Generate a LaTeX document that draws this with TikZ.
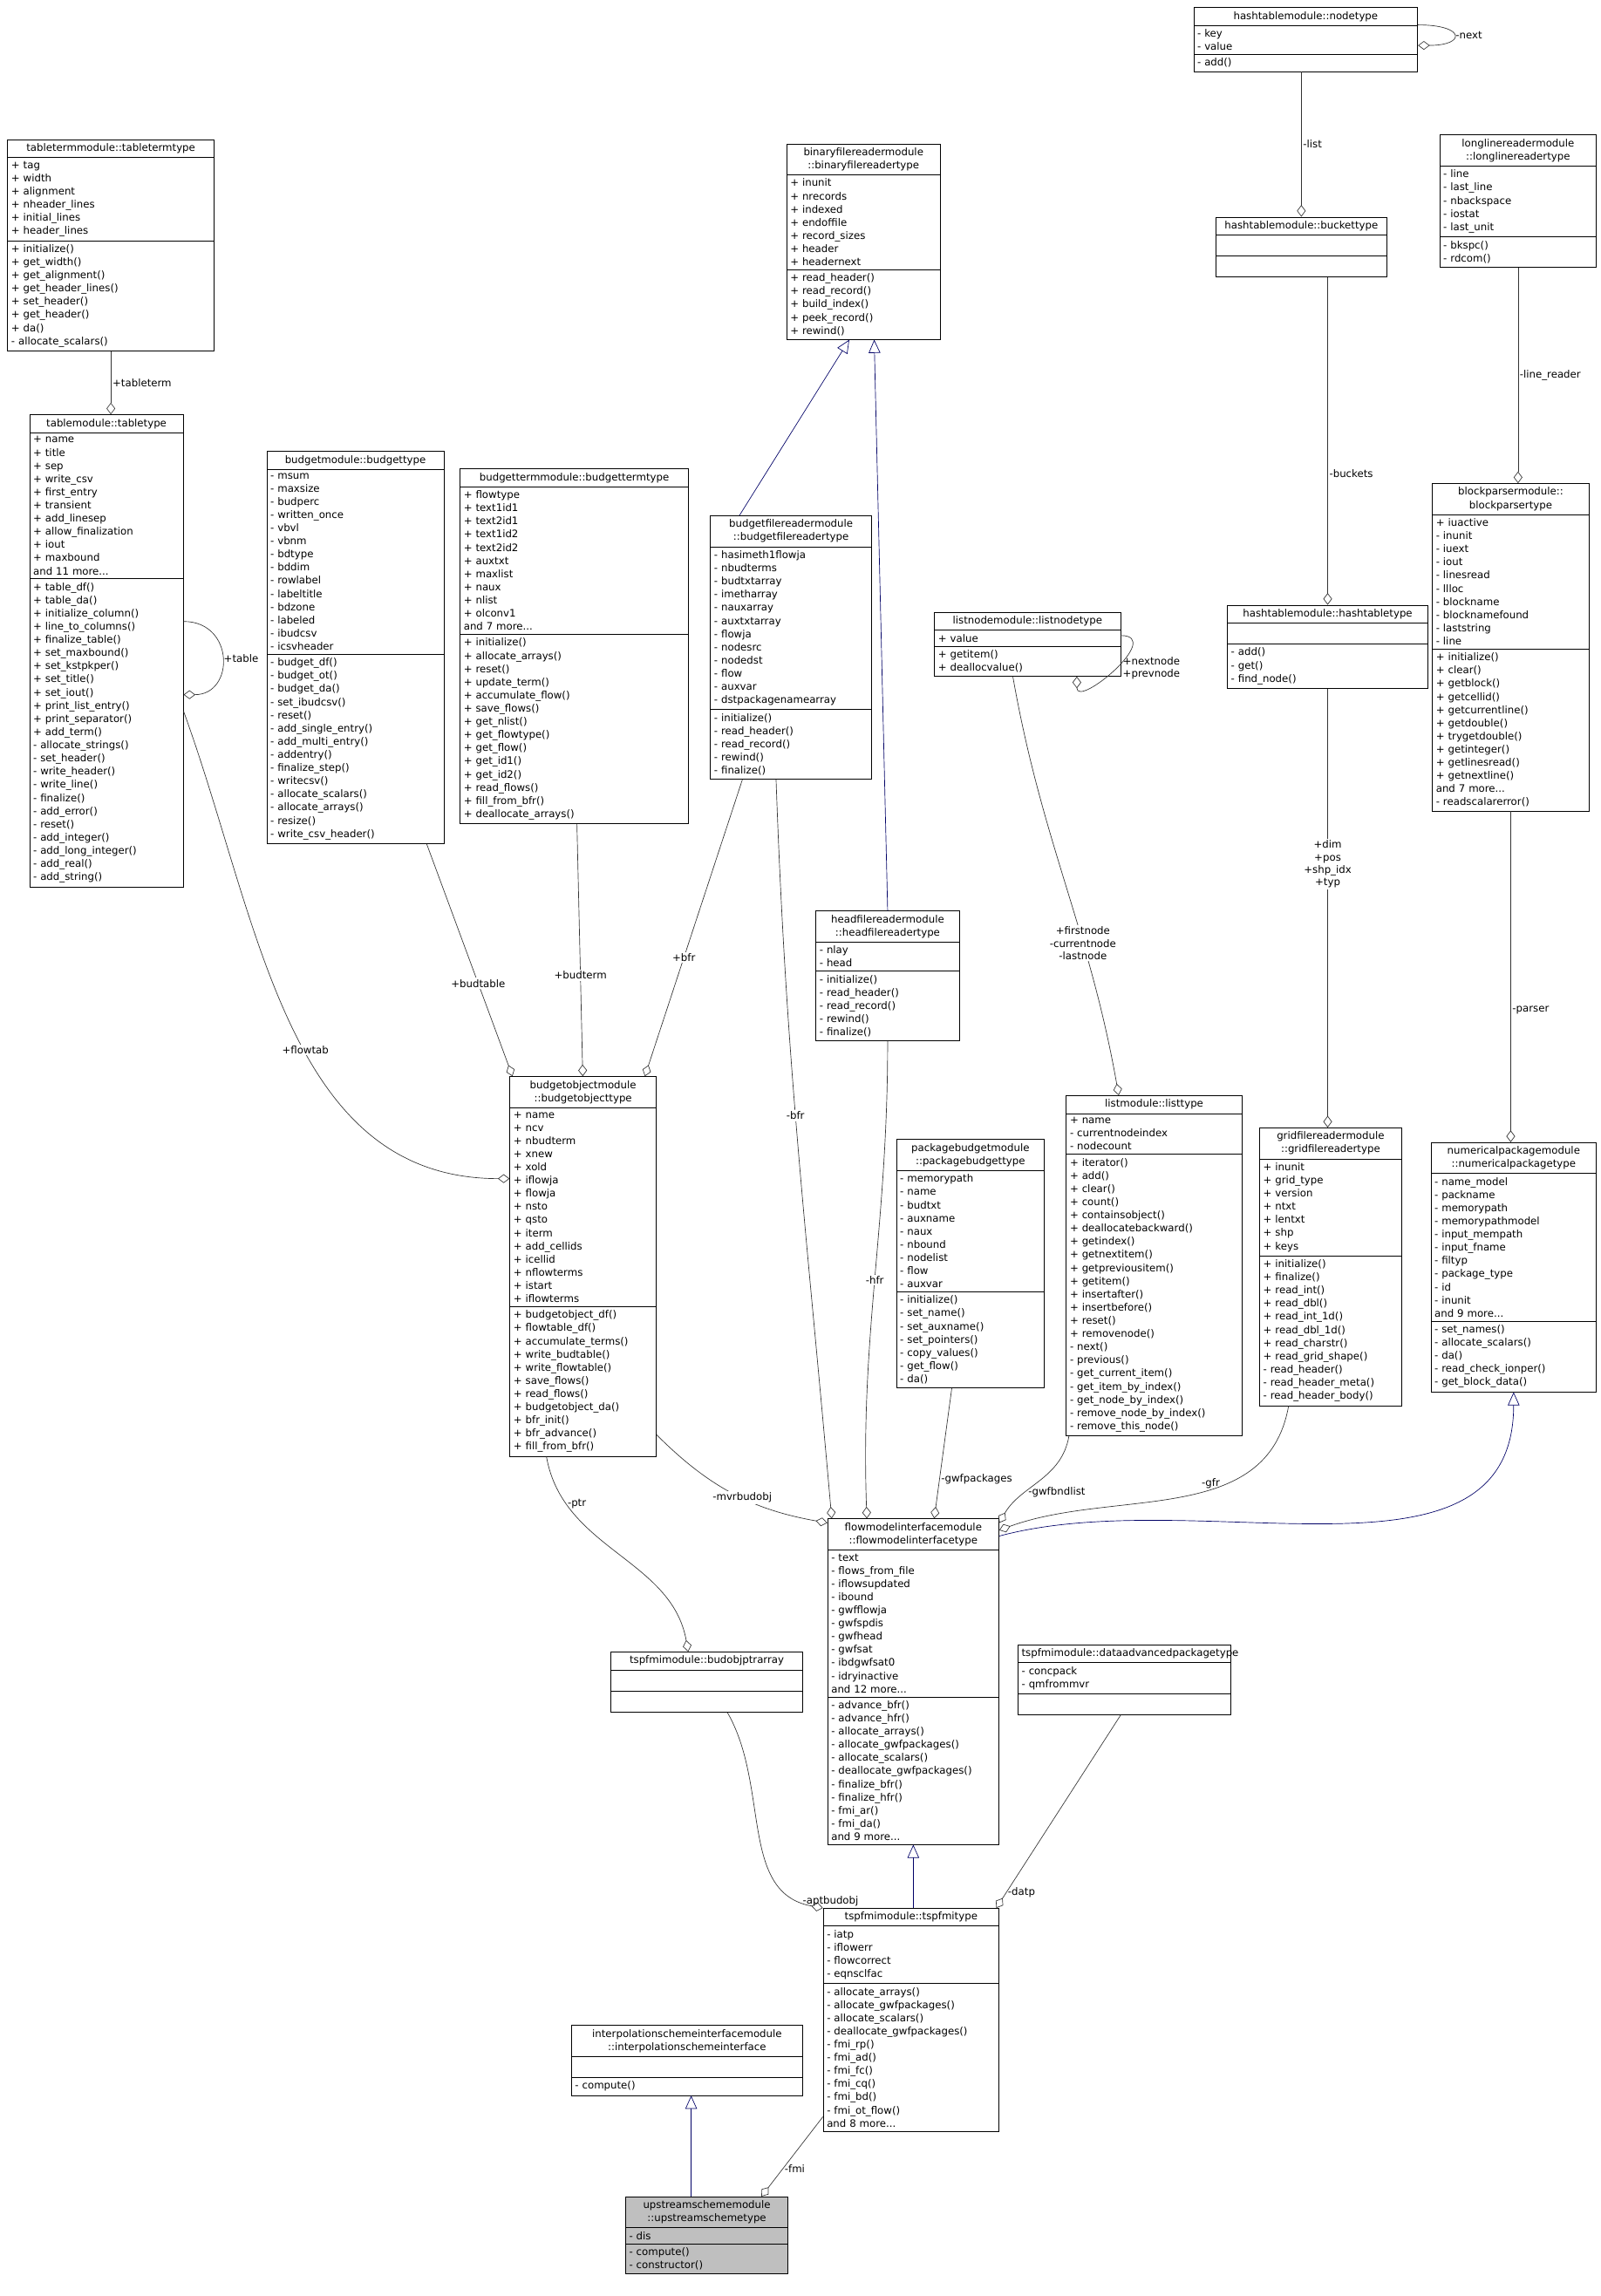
\documentclass[tikz,border=0pt]{standalone}
\usepackage{fontspec}
\setmainfont{DejaVu Sans}
\usetikzlibrary{shapes.multipart,arrows.meta,calc}
\begin{document}
\begin{tikzpicture}[x=1pt, y=-1pt,
    cls/.style = {draw, rectangle split, rectangle split parts=3, anchor=north west,
      inner sep=2.5pt, font=\fontsize{7}{9}\selectfont, fill=white},
    agg/.style = {draw=black!80, {Diamond[open,length=8pt,width=6pt]}-},
    inh/.style = {draw=blue!40!black, {Triangle[open,length=9pt,width=8pt]}-},
    lbl/.style = {font=\fontsize{7}{8.5}\selectfont, align=center, inner sep=1pt}]
  \useasboundingbox (0,0) rectangle (1093,1568);

  \node[cls, text width=148] (nt) at (815,5) {\centering hashtablemodule::nodetype\par\nodepart{two}- key\\- value\nodepart{three}- add()};
  \node[cls, text width=136] (ttt) at (5,95) {\centering tabletermmodule::tabletermtype\par\nodepart{two}+ tag\\+ width\\+ alignment\\+ nheader\_lines\\+ initial\_lines\\+ header\_lines\nodepart{three}+ initialize()\\+ get\_width()\\+ get\_alignment()\\+ get\_header\_lines()\\+ set\_header()\\+ get\_header()\\+ da()\\- allocate\_scalars()};
  \node[cls, text width=100] (bin) at (537,98) {\centering binaryfilereadermodule\\::binaryfilereadertype\par\nodepart{two}+ inunit\\+ nrecords\\+ indexed\\+ endoffile\\+ record\_sizes\\+ header\\+ headernext\nodepart{three}+ read\_header()\\+ read\_record()\\+ build\_index()\\+ peek\_record()\\+ rewind()};
  \node[cls, text width=112] (bk) at (830,148) {\centering hashtablemodule::buckettype\par\nodepart{two}\strut\nodepart{three}\strut};
  \node[cls, text width=102] (llr) at (983,92) {\centering longlinereadermodule\\::longlinereadertype\par\nodepart{two}- line\\- last\_line\\- nbackspace\\- iostat\\- last\_unit\nodepart{three}- bkspc()\\- rdcom()};
  \node[cls, text width=100] (tt) at (20,283) {\centering tablemodule::tabletype\par\nodepart{two}+ name\\+ title\\+ sep\\+ write\_csv\\+ first\_entry\\+ transient\\+ add\_linesep\\+ allow\_finalization\\+ iout\\+ maxbound\\and 11 more...\nodepart{three}+ table\_df()\\+ table\_da()\\+ initialize\_column()\\+ line\_to\_columns()\\+ finalize\_table()\\+ set\_maxbound()\\+ set\_kstpkper()\\+ set\_title()\\+ set\_iout()\\+ print\_list\_entry()\\+ print\_separator()\\+ add\_term()\\- allocate\_strings()\\- set\_header()\\- write\_header()\\- write\_line()\\- finalize()\\- add\_error()\\- reset()\\- add\_integer()\\- add\_long\_integer()\\- add\_real()\\- add\_string()};
  \node[cls, text width=116] (bt) at (182,308) {\centering budgetmodule::budgettype\par\nodepart{two}- msum\\- maxsize\\- budperc\\- written\_once\\- vbvl\\- vbnm\\- bdtype\\- bddim\\- rowlabel\\- labeltitle\\- bdzone\\- labeled\\- ibudcsv\\- icsvheader\nodepart{three}- budget\_df()\\- budget\_ot()\\- budget\_da()\\- set\_ibudcsv()\\- reset()\\- add\_single\_entry()\\- add\_multi\_entry()\\- addentry()\\- finalize\_step()\\- writecsv()\\- allocate\_scalars()\\- allocate\_arrays()\\- resize()\\- write\_csv\_header()};
  \node[cls, text width=151] (btt) at (314,320) {\centering budgettermmodule::budgettermtype\par\nodepart{two}+ flowtype\\+ text1id1\\+ text2id1\\+ text1id2\\+ text2id2\\+ auxtxt\\+ maxlist\\+ naux\\+ nlist\\+ olconv1\\and 7 more...\nodepart{three}+ initialize()\\+ allocate\_arrays()\\+ reset()\\+ update\_term()\\+ accumulate\_flow()\\+ save\_flows()\\+ get\_nlist()\\+ get\_flowtype()\\+ get\_flow()\\+ get\_id1()\\+ get\_id2()\\+ read\_flows()\\+ fill\_from\_bfr()\\+ deallocate\_arrays()};
  \node[cls, text width=105] (bfr) at (485,352) {\centering budgetfilereadermodule\\::budgetfilereadertype\par\nodepart{two}- hasimeth1flowja\\- nbudterms\\- budtxtarray\\- imetharray\\- nauxarray\\- auxtxtarray\\- flowja\\- nodesrc\\- nodedst\\- flow\\- auxvar\\- dstpackagenamearray\nodepart{three}- initialize()\\- read\_header()\\- read\_record()\\- rewind()\\- finalize()};
  \node[cls, text width=122] (ln) at (638,418) {\centering listnodemodule::listnodetype\par\nodepart{two}+ value\nodepart{three}+ getitem()\\+ deallocvalue()};
  \node[cls, text width=132] (ht) at (838,413) {\centering hashtablemodule::hashtabletype\par\nodepart{two}\strut\nodepart{three}- add()\\- get()\\- find\_node()};
  \node[cls, text width=102] (bp) at (978,330) {\centering blockparsermodule::\\blockparsertype\par\nodepart{two}+ iuactive\\- inunit\\- iuext\\- iout\\- linesread\\- llloc\\- blockname\\- blocknamefound\\- laststring\\- line\nodepart{three}+ initialize()\\+ clear()\\+ getblock()\\+ getcellid()\\+ getcurrentline()\\+ getdouble()\\+ trygetdouble()\\+ getinteger()\\+ getlinesread()\\+ getnextline()\\and 7 more...\\- readscalarerror()};
  \node[cls, text width=93] (hfr) at (557,622) {\centering headfilereadermodule\\::headfilereadertype\par\nodepart{two}- nlay\\- head\nodepart{three}- initialize()\\- read\_header()\\- read\_record()\\- rewind()\\- finalize()};
  \node[cls, text width=95] (bo) at (348,735) {\centering budgetobjectmodule\\::budgetobjecttype\par\nodepart{two}+ name\\+ ncv\\+ nbudterm\\+ xnew\\+ xold\\+ iflowja\\+ flowja\\+ nsto\\+ qsto\\+ iterm\\+ add\_cellids\\+ icellid\\+ nflowterms\\+ istart\\+ iflowterms\nodepart{three}+ budgetobject\_df()\\+ flowtable\_df()\\+ accumulate\_terms()\\+ write\_budtable()\\+ write\_flowtable()\\+ save\_flows()\\+ read\_flows()\\+ budgetobject\_da()\\+ bfr\_init()\\+ bfr\_advance()\\+ fill\_from\_bfr()};
  \node[cls, text width=115] (lt) at (728,748) {\centering listmodule::listtype\par\nodepart{two}+ name\\- currentnodeindex\\- nodecount\nodepart{three}+ iterator()\\+ add()\\+ clear()\\+ count()\\+ containsobject()\\+ deallocatebackward()\\+ getindex()\\+ getnextitem()\\+ getpreviousitem()\\+ getitem()\\+ insertafter()\\+ insertbefore()\\+ reset()\\+ removenode()\\- next()\\- previous()\\- get\_current\_item()\\- get\_item\_by\_index()\\- get\_node\_by\_index()\\- remove\_node\_by\_index()\\- remove\_this\_node()};
  \node[cls, text width=96] (pb) at (612,778) {\centering packagebudgetmodule\\::packagebudgettype\par\nodepart{two}- memorypath\\- name\\- budtxt\\- auxname\\- naux\\- nbound\\- nodelist\\- flow\\- auxvar\nodepart{three}- initialize()\\- set\_name()\\- set\_auxname()\\- set\_pointers()\\- copy\_values()\\- get\_flow()\\- da()};
  \node[cls, text width=92] (gfr) at (860,770) {\centering gridfilereadermodule\\::gridfilereadertype\par\nodepart{two}+ inunit\\+ grid\_type\\+ version\\+ ntxt\\+ lentxt\\+ shp\\+ keys\nodepart{three}+ initialize()\\+ finalize()\\+ read\_int()\\+ read\_dbl()\\+ read\_int\_1d()\\+ read\_dbl\_1d()\\+ read\_charstr()\\+ read\_grid\_shape()\\- read\_header()\\- read\_header\_meta()\\- read\_header\_body()};
  \node[cls, text width=108] (np) at (977,780) {\centering numericalpackagemodule\\::numericalpackagetype\par\nodepart{two}- name\_model\\- packname\\- memorypath\\- memorypathmodel\\- input\_mempath\\- input\_fname\\- filtyp\\- package\_type\\- id\\- inunit\\and 9 more...\nodepart{three}- set\_names()\\- allocate\_scalars()\\- da()\\- read\_check\_ionper()\\- get\_block\_data()};
  \node[cls, text width=112] (fmi) at (565,1037) {\centering flowmodelinterfacemodule\\::flowmodelinterfacetype\par\nodepart{two}- text\\- flows\_from\_file\\- iflowsupdated\\- ibound\\- gwfflowja\\- gwfspdis\\- gwfhead\\- gwfsat\\- ibdgwfsat0\\- idryinactive\\and 12 more...\nodepart{three}- advance\_bfr()\\- advance\_hfr()\\- allocate\_arrays()\\- allocate\_gwfpackages()\\- allocate\_scalars()\\- deallocate\_gwfpackages()\\- finalize\_bfr()\\- finalize\_hfr()\\- fmi\_ar()\\- fmi\_da()\\and 9 more...};
  \node[cls, text width=126] (bpa) at (417,1128) {\centering tspfmimodule::budobjptrarray\par\nodepart{two}\strut\nodepart{three}\strut};
  \node[cls, text width=140] (dap) at (695,1123) {\centering tspfmimodule::dataadvancedpackagetype\par\nodepart{two}- concpack\\- qmfrommvr\nodepart{three}\strut};
  \node[cls, text width=115] (tsp) at (562,1303) {\centering tspfmimodule::tspfmitype\par\nodepart{two}- iatp\\- iflowerr\\- flowcorrect\\- eqnsclfac\nodepart{three}- allocate\_arrays()\\- allocate\_gwfpackages()\\- allocate\_scalars()\\- deallocate\_gwfpackages()\\- fmi\_rp()\\- fmi\_ad()\\- fmi\_fc()\\- fmi\_cq()\\- fmi\_bd()\\- fmi\_ot\_flow()\\and 8 more...};
  \node[cls, text width=153] (isi) at (390,1383) {\centering interpolationschemeinterfacemodule\\::interpolationschemeinterface\par\nodepart{two}\strut\nodepart{three}- compute()};
  \node[cls, text width=106, fill=black!25] (us) at (427,1500) {\centering upstreamschememodule\\::upstreamschemetype\par\nodepart{two}- dis\nodepart{three}- compute()\\- constructor()};

  % aggregations
  \draw[agg] (bk.north) -- node[lbl, right] {-list} (bk.north |- nt.south);
  \draw[agg] (ht.north) -- node[lbl, right, pos=0.4] {-buckets} (ht.north |- bk.south);
  \draw[agg] (gfr.north -| ht.south) -- node[lbl, pos=0.6, fill=white] {+dim\\+pos\\+shp\_idx\\+typ} (ht.south);
  \draw[agg] (tt.north -| ttt.south) -- node[lbl, right] {+tableterm} (ttt.south);
  \draw[agg] (bp.north -| llr.south) -- node[lbl, right] {-line\_reader} (llr.south);
  \draw[agg] (np.north -| bp.south) -- node[lbl, right, pos=0.4] {-parser} (bp.south);
  \draw[agg] ([xshift=36]lt.north west) to[out=100,in=-80] node[lbl, pos=0.35, fill=white] {+firstnode\\-currentnode\\-lastnode} ([xshift=-10]ln.south);
  \draw[agg] ([yshift=-30]tt.east) .. controls +(35,0) and +(35,0) .. node[lbl, right] {+table} ([yshift=20]tt.east);
  \draw[agg] ([yshift=-4]nt.east) to[out=0,in=0,looseness=6] node[lbl, right] {-next} ([yshift=10]nt.east);
  \draw[agg] ([xshift=-30]ln.south east) .. controls +(0,22) and +(30,0) .. node[lbl, right, xshift=4pt] {+nextnode\\+prevnode} ([yshift=6]ln.east);
  \draw[agg] ([yshift=60]bo.west) to[out=180,in=-70] node[lbl, pos=0.45, fill=white] {+flowtab} ([yshift=120]tt.south east);
  \draw[agg] ([xshift=2]bo.north west) -- node[lbl, pos=0.4, fill=white] {+budtable} ([xshift=-12]bt.south east);
  \draw[agg] ([xshift=50]bo.north west) -- node[lbl, pos=0.4, fill=white] {+budterm} ([xshift=80]btt.south west);
  \draw[agg] ([xshift=-8]bo.north east) -- node[lbl, pos=0.4, fill=white] {+bfr} ([xshift=22]bfr.south west);
  \draw[agg] ([xshift=3]fmi.north west) to[out=95,in=-88] node[lbl, pos=0.55, fill=white] {-bfr} ([xshift=45]bfr.south west);
  \draw[agg] ([xshift=27]fmi.north west) to[out=92,in=-90] node[lbl, pos=0.5, fill=white] {-hfr} (hfr.south);
  \draw[agg] ([xshift=73]fmi.north west) -- node[lbl, pos=0.3, right] {-gwfpackages} ([xshift=38]pb.south west);
  \draw[agg] ([yshift=-3]fmi.north east) to[out=60,in=-100] node[lbl, pos=0.35, right] {-gwfbndlist} ([xshift=2]lt.south west);
  \draw[agg] ([yshift=-8]fmi.north east) to[out=20,in=-100] node[lbl, pos=0.6, above] {-gfr} ([xshift=20]gfr.south west);
  \draw[agg] ([yshift=-3]fmi.north west) to[out=170,in=-45] node[lbl, pos=0.45, fill=white] {-mvrbudobj} ([yshift=15]bo.south east);
  \draw[agg] ([xshift=53]bpa.north west) to[out=100,in=-80] node[lbl, pos=0.8, right] {-ptr} ([xshift=-25]bo.south);
  \draw[agg] (tsp.north west) to[out=170,in=-60] node[lbl, pos=0.1, right] {-aptbudobj} ([xshift=14]bpa.south);
  \draw[agg] ([xshift=-2]tsp.north east) -- node[lbl, pos=0.08, right] {-datp} ([xshift=-75]dap.south east);
  \draw[agg] ([xshift=93]us.north west) -- node[lbl, right, pos=0.35] {-fmi} ([yshift=10]tsp.south west);

  % generalizations
  \draw[inh] ([xshift=43]bin.south west) -- ([xshift=20]bfr.north west);
  \draw[inh] ([xshift=60]bin.south west) -- (hfr.north);
  \draw[inh] (np.south) to[out=-90,in=15] ([yshift=-12]fmi.north east);
  \draw[inh] (fmi.south) -- (fmi.south |- tsp.north);
  \draw[inh] ([xshift=82]isi.south west) -- ([xshift=45]us.north west);
\end{tikzpicture}
\end{document}
